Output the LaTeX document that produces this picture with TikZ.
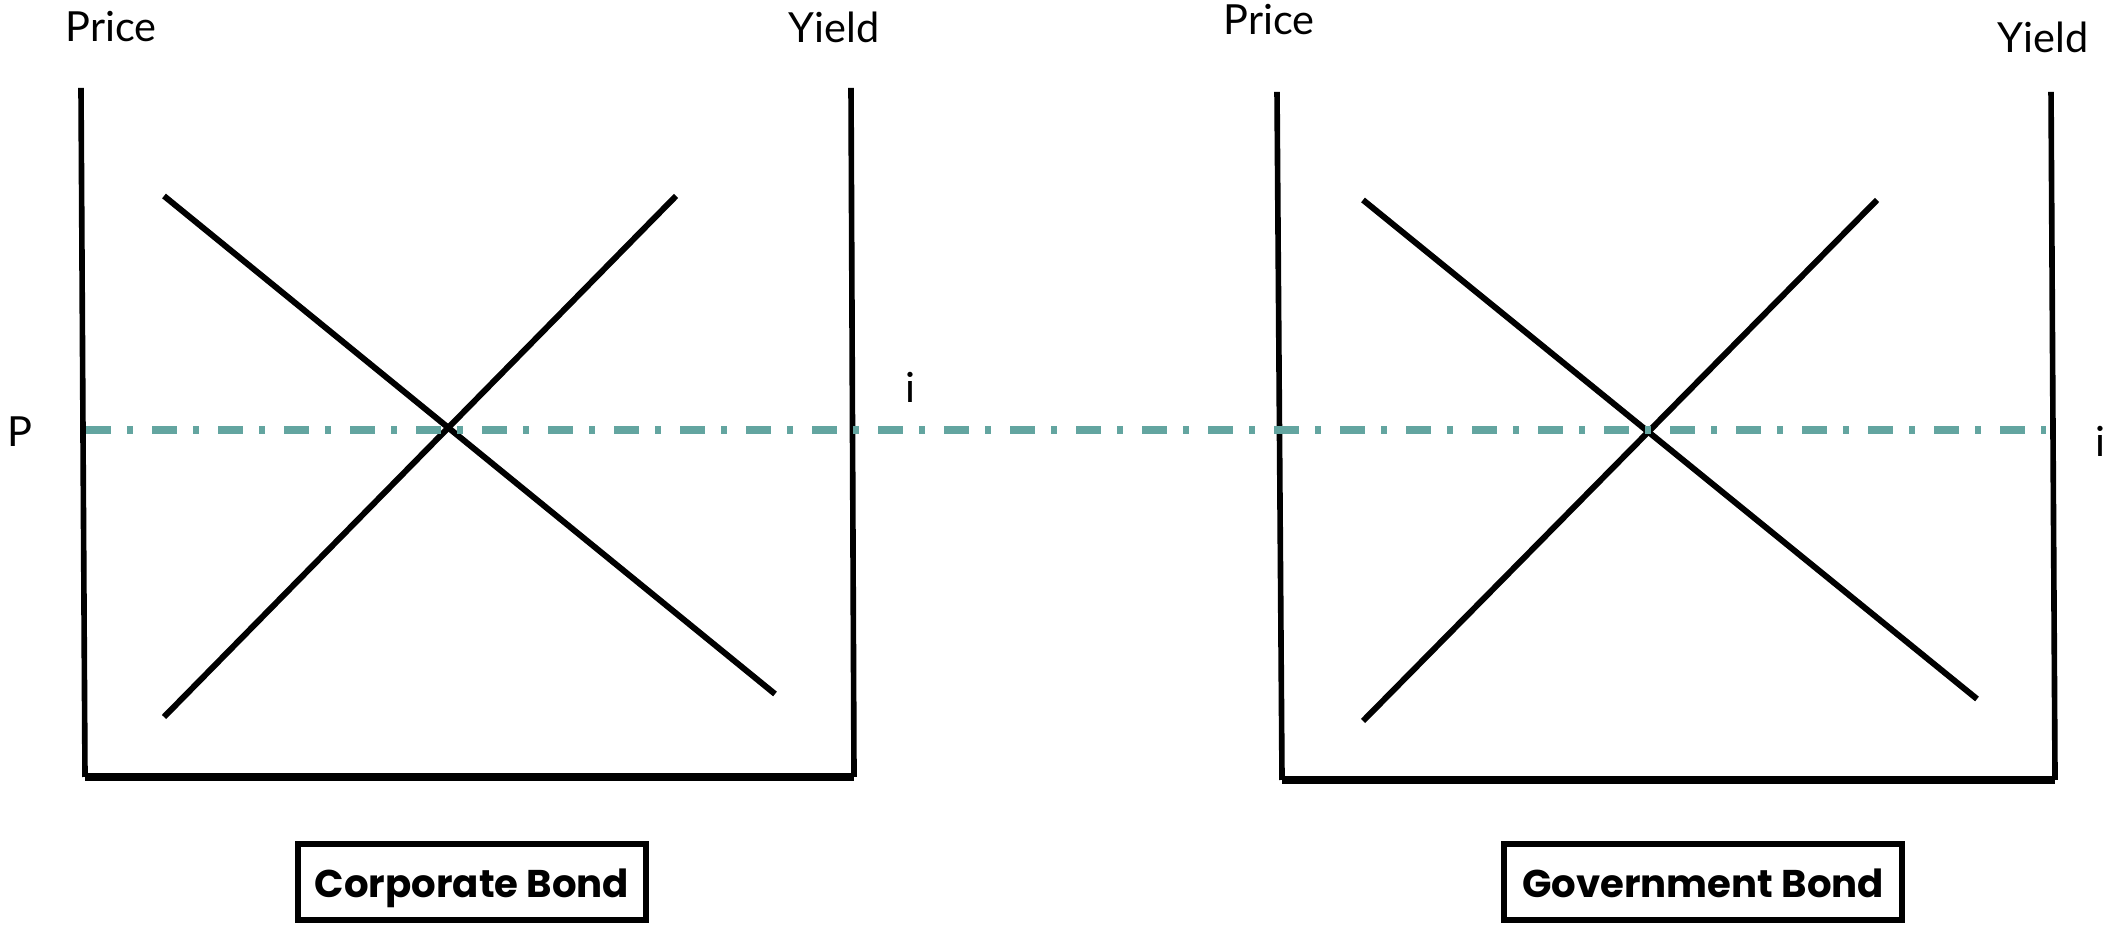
\documentclass[tikz,border=0pt]{standalone}
\usepackage{fontspec}
\setmainfont{Lato}
\newfontfamily\bondfont{Poppins}
\usetikzlibrary{positioning}
\definecolor{pLine}{RGB}{99,165,160}

\begin{document}
\begin{tikzpicture}[
    axis/.style={line width=1.6pt},
    curve/.style={line width=1.7pt},
    lbl/.style={font=\fontsize{11.8}{13}\selectfont, inner sep=0pt},
    bondbox/.style={draw, line width=1.8pt, minimum height=0.76cm, inner sep=0pt, text height=11pt, text depth=2pt, font=\bondfont\bfseries\fontsize{11}{13}\selectfont},
    priceline/.style={draw=pLine, line width=2.2pt, dash pattern=on 0.25cm off 0.16cm on 0.06cm off 0.19cm}
]
\useasboundingbox (0,0) rectangle (21.2,9.25);

% Corporate bond
\coordinate (cTL) at (0.81,8.37);
\coordinate (cBL) at (0.85,1.48);
\coordinate (cBR) at (8.54,1.48);
\coordinate (cTR) at (8.51,8.37);
\draw[axis] (cTL) -- (cBL);
\draw[axis] (cTR) -- (cBR);
\draw[axis, line width=2pt] (cBL) -- (cBR);
\coordinate (cD1) at (1.64,7.29);
\coordinate (cD2) at (7.75,2.31);
\coordinate (cS1) at (1.64,2.08);
\coordinate (cS2) at (6.76,7.29);
\draw[curve] (cD1) -- (cD2);
\draw[curve] (cS1) -- (cS2);
\node[lbl] (cPrice) at (1.11,8.98) {Price};
\node[lbl] (cYield) at (8.34,8.98) {Yield};
\node[lbl] (cP) at (0.20,4.93) {P};
\node[lbl] (cI) at (9.10,5.38) {i};
\node[bondbox, minimum width=3.48cm] (corp) at (4.72,0.43) {Corporate Bond};

% Government bond
\coordinate (gTL) at (12.77,8.33);
\coordinate (gBL) at (12.82,1.45);
\coordinate (gBR) at (20.55,1.45);
\coordinate (gTR) at (20.51,8.33);
\draw[axis] (gTL) -- (gBL);
\draw[axis] (gTR) -- (gBR);
\draw[axis, line width=2pt] (gBL) -- (gBR);
\coordinate (gD1) at (13.63,7.25);
\coordinate (gD2) at (19.77,2.26);
\coordinate (gS1) at (13.63,2.04);
\coordinate (gS2) at (18.77,7.25);
\draw[curve] (gD1) -- (gD2);
\draw[curve] (gS1) -- (gS2);
\node[lbl] (gPrice) at (12.69,9.05) {Price};
\node[lbl] (gYield) at (20.43,8.88) {Yield};
\node[lbl] (gI) at (21.00,4.84) {i};
\node[bondbox, minimum width=3.98cm] (gov) at (17.03,0.43) {Government Bond};

% common price level
\coordinate (pStart) at (0.86,4.95);
\coordinate (pEnd) at (20.46,4.95);
\draw[priceline] (pStart) -- (pEnd);
\end{tikzpicture}
\end{document}
